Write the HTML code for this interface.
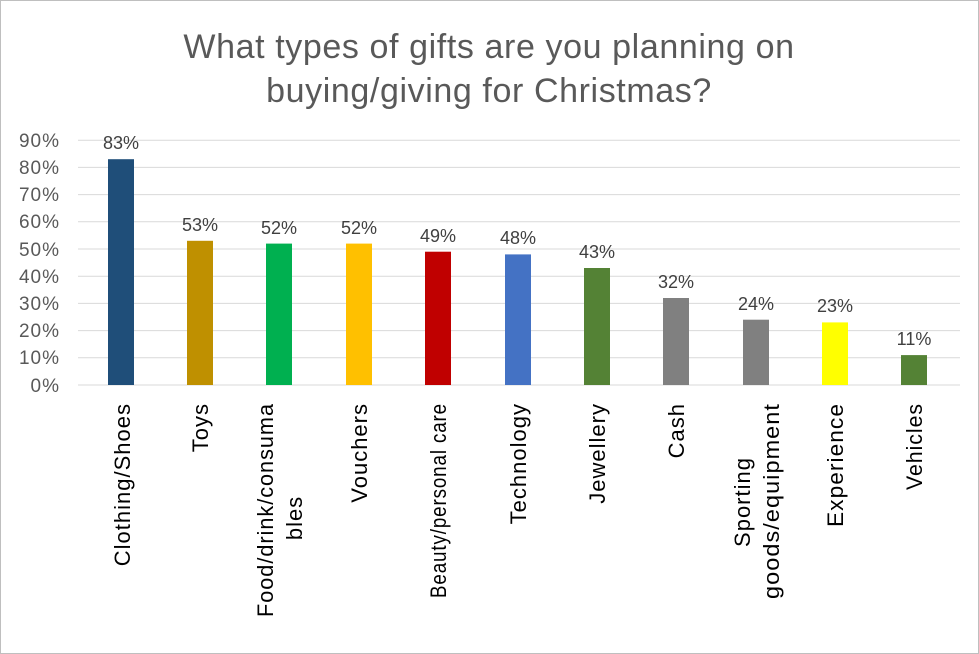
<!DOCTYPE html>
<html><head><style>
html,body{margin:0;padding:0;background:#fff;}
svg{display:block;font-family:"Liberation Sans",sans-serif;}
</style></head><body>
<svg width="979" height="654" viewBox="0 0 979 654">
<rect x="0.5" y="0.5" width="978" height="653" fill="#fff" stroke="#bfbfbf"/>
<text x="489" y="58" text-anchor="middle" font-size="34" letter-spacing="0.6" fill="#595959">What types of gifts are you planning on</text>
<text x="489" y="102" text-anchor="middle" font-size="34" letter-spacing="0.6" fill="#595959">buying/giving for Christmas?</text>
<g stroke="#d9d9d9" stroke-width="1">
<line x1="78" x2="960" y1="140.2" y2="140.2"/>
<line x1="78" x2="960" y1="167.4" y2="167.4"/>
<line x1="78" x2="960" y1="194.6" y2="194.6"/>
<line x1="78" x2="960" y1="221.8" y2="221.8"/>
<line x1="78" x2="960" y1="249" y2="249"/>
<line x1="78" x2="960" y1="276.2" y2="276.2"/>
<line x1="78" x2="960" y1="303.4" y2="303.4"/>
<line x1="78" x2="960" y1="330.6" y2="330.6"/>
<line x1="78" x2="960" y1="357.8" y2="357.8"/>
<line x1="78" x2="960" y1="385" y2="385"/>
</g>
<g font-size="19" letter-spacing="1" fill="#595959" text-anchor="end">
<text x="60" y="147">90%</text><text x="60" y="174">80%</text><text x="60" y="201">70%</text>
<text x="60" y="228">60%</text><text x="60" y="256">50%</text><text x="60" y="283">40%</text>
<text x="60" y="310">30%</text><text x="60" y="337">20%</text><text x="60" y="364">10%</text>
<text x="60" y="392">0%</text>
</g>
<g>
<rect x="108" y="159.2" width="26" height="225.8" fill="#1F4E79"/>
<rect x="187" y="240.8" width="26" height="144.2" fill="#BF9000"/>
<rect x="266" y="243.6" width="26" height="141.4" fill="#00B050"/>
<rect x="346" y="243.6" width="26" height="141.4" fill="#FFC000"/>
<rect x="425" y="251.7" width="26" height="133.3" fill="#C00000"/>
<rect x="505" y="254.4" width="26" height="130.6" fill="#4472C4"/>
<rect x="584" y="268" width="26" height="117" fill="#548235"/>
<rect x="663" y="298" width="26" height="87" fill="#808080"/>
<rect x="743" y="319.7" width="26" height="65.3" fill="#808080"/>
<rect x="822" y="322.4" width="26" height="62.6" fill="#FFFF00"/>
<rect x="901" y="355.1" width="26" height="29.9" fill="#548235"/>
</g>
<g font-size="18" fill="#404040" text-anchor="middle">
<text x="121" y="149">83%</text><text x="200" y="231">53%</text><text x="279" y="234">52%</text>
<text x="359" y="234">52%</text><text x="438" y="242">49%</text><text x="518" y="244">48%</text>
<text x="597" y="258">43%</text><text x="676" y="288">32%</text><text x="756" y="310">24%</text>
<text x="835" y="312">23%</text><text x="914" y="345">11%</text>
</g>
<g font-size="22" letter-spacing="1" fill="#000" text-anchor="end">
<text transform="translate(130,403) rotate(-90)">Clothing/Shoes</text>
<text transform="translate(208,403) rotate(-90)">Toys</text>
<text transform="translate(273,403) rotate(-90)" textLength="214" lengthAdjust="spacingAndGlyphs">Food/drink/consuma</text>
<text transform="translate(302,518) rotate(-90)" text-anchor="middle">bles</text>
<text transform="translate(367,403) rotate(-90)">Vouchers</text>
<text transform="translate(446,403) rotate(-90)" textLength="195" lengthAdjust="spacingAndGlyphs">Beauty/personal care</text>
<text transform="translate(526,403) rotate(-90)">Technology</text>
<text transform="translate(605,403) rotate(-90)">Jewellery</text>
<text transform="translate(684,403) rotate(-90)">Cash</text>
<text transform="translate(750,502) rotate(-90)" text-anchor="middle">Sporting</text>
<text transform="translate(779,403) rotate(-90)" textLength="196" lengthAdjust="spacingAndGlyphs">goods/equipment</text>
<text transform="translate(843,403) rotate(-90)" textLength="124" lengthAdjust="spacingAndGlyphs">Experience</text>
<text transform="translate(922,403) rotate(-90)" textLength="87" lengthAdjust="spacingAndGlyphs">Vehicles</text>
</g>
</svg>
</body></html>
